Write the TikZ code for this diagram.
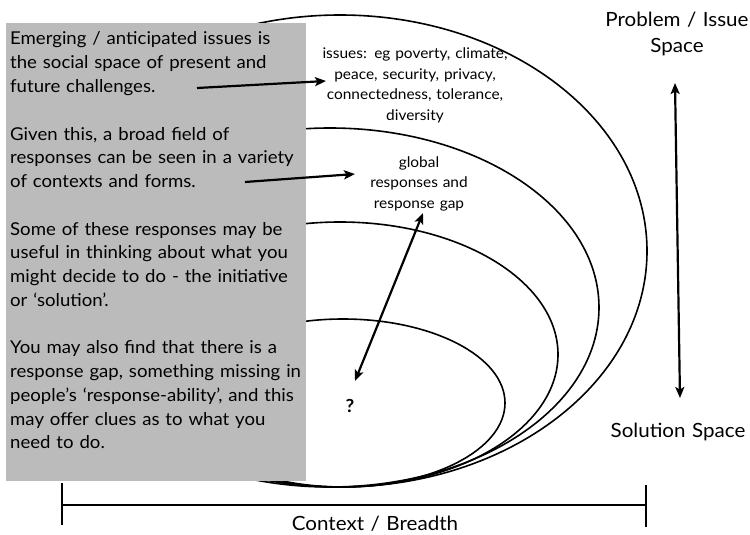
\documentclass[tikz,border=0pt]{standalone}
\usepackage{fontspec}
\setmainfont[FakeStretch=1.05]{Lato}
\usetikzlibrary{arrows.meta}
\definecolor{boxgray}{RGB}{187,187,187}
\begin{document}
\begin{tikzpicture}[x=1pt,y=-1pt,
  ring/.style={draw=black,line width=1.6pt},
  conn/.style={line width=2.2pt,-{Stealth[length=11pt,width=9pt,inset=2.5pt]}},
  biconn/.style={line width=2.2pt,{Stealth[length=11pt,width=9pt,inset=2.5pt]}-{Stealth[length=11pt,width=9pt,inset=2.5pt]}},
  axis/.style={line width=2.4pt},
  panel/.style={fill=boxgray,draw=none,inner sep=0pt},
  paratext/.style={inner sep=0pt,text width=300pt,align=left,font=\fontsize{17.7}{23.76}\selectfont},
  ringlabel/.style={inner sep=0pt,text width=220pt,align=center,font=\fontsize{14.7}{20.5}\selectfont},
  sidelabel/.style={inner sep=0pt,text width=180pt,align=center,font=\fontsize{19.6}{26}\selectfont}
]
\useasboundingbox (0,0) rectangle (750,535);
% nested rings
\draw[ring] (340,251) ellipse [x radius=307pt, y radius=236pt];
\draw[ring] (330,307.5) ellipse [x radius=269pt, y radius=179.5pt];
\draw[ring] (340,354.5) ellipse [x radius=218pt, y radius=132.5pt];
\draw[ring] (343,403) ellipse [x radius=162pt, y radius=84pt];
% grey panel
\node[panel,anchor=north west,minimum width=300pt,minimum height=458pt] (box) at (6,23) {};
\node[paratext,anchor=base west] (para) at (10,45) {Emerging / anticipated issues is\\
the social space of present and\\
future challenges.\\[23.76pt]
Given this, a broad field of\\
responses can be seen in a variety\\
of contexts and forms.\\[23.76pt]
Some of these responses may be\\
useful in thinking about what you\\
might decide to do - the initiative\\
or ‘solution’.\\[23.76pt]
You may also find that there is a\\
response gap, something missing in\\
people’s ‘response-ability’, and this\\
may offer clues as to what you\\
need to do.};
% ring labels
\node[ringlabel,anchor=base] (issues) at (415,59) {issues: eg poverty, climate,\\ peace, security, privacy,\\ connectedness, tolerance,\\ diversity};
\node[ringlabel,anchor=base] (global) at (419,167) {global\\ responses and\\ response gap};
\node[inner sep=0pt,anchor=base,font=\fontsize{18}{20}\selectfont\bfseries] (q) at (350,412) {?};
% side labels
\node[sidelabel,anchor=base] (prob) at (677,27) {Problem / Issue\\ Space};
\node[sidelabel,anchor=base] (sol) at (678,437) {Solution Space};
\node[sidelabel,anchor=base] (ctx) at (375,530) {Context / Breadth};
% connectors
\coordinate (a1s) at (197,88);
\coordinate (a1e) at (326,81);
\coordinate (a2s) at (245,182);
\coordinate (a2e) at (355,174);
\coordinate (a3s) at (423,213);
\coordinate (a3e) at (355,381);
\coordinate (vt) at (675,83);
\coordinate (vb) at (680,398);
\draw[conn] (a1s) -- (a1e);
\draw[conn] (a2s) -- (a2e);
\draw[biconn] (a3e) -- (a3s);
\draw[biconn] (vb) -- (vt);
% axis
\coordinate (axl) at (62,505);
\coordinate (axr) at (646,505);
\draw[axis] (axl) -- (axr);
\draw[axis] ([yshift=-20pt]axl) -- ([yshift=22pt]axl);
\draw[axis] ([yshift=-22pt]axr) -- ([yshift=20pt]axr);
\end{tikzpicture}
\end{document}
